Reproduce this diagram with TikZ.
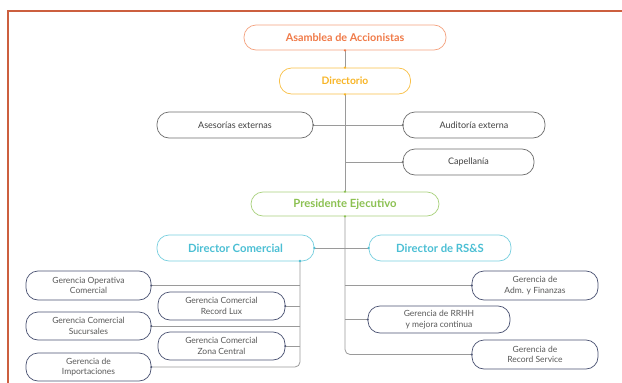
\documentclass[tikz,border=0pt]{standalone}
\usepackage{fontspec}
\setmainfont{Lato}
\definecolor{marco}{HTML}{CC5F3F}
\definecolor{naranja}{HTML}{F07A48}
\definecolor{amarillo}{HTML}{F8B526}
\definecolor{verde}{HTML}{8CC152}
\definecolor{celeste}{HTML}{4BBFD4}
\definecolor{gris}{HTML}{6E6E6E}
\definecolor{azul}{HTML}{4A5272}
\definecolor{linea}{HTML}{9A9A9A}
\begin{document}
\begin{tikzpicture}[x=1pt,y=-1pt,
    caja/.style={draw,rounded corners=12pt,fill=white,line width=0.7pt,inner sep=0pt,align=center},
    jefe/.style={caja,font=\bfseries\fontsize{11.3}{13}\selectfont},
    asesor/.style={caja,draw=gris,text=black!75,font=\fontsize{9}{10}\selectfont},
    gerencia/.style={caja,draw=azul,text=black!65,minimum width=125pt,minimum height=28pt,font=\fontsize{8.5}{10.3}\selectfont},
    conector/.style={linea,line width=0.8pt}]
\useasboundingbox (0,0) rectangle (622,383);
% marco
\draw[marco,line width=2.5pt] (8,400) -- (8,11) -- (630,11);
% nodos
\node[jefe,draw=naranja!70,text=naranja,minimum width=202pt,minimum height=25pt,font=\bfseries\fontsize{10.8}{13}\selectfont] (asamblea) at (345,37.5) {Asamblea de Accionistas};
\node[jefe,draw=amarillo!85,text=amarillo,minimum width=131pt,minimum height=26pt,font=\bfseries\fontsize{10.3}{13}\selectfont] (directorio) at (345,81) {Directorio};
\node[asesor,minimum width=156pt,minimum height=26pt] (asesorias) at (235,125) {Asesorías externas};
\node[asesor,minimum width=142pt,minimum height=26pt] (auditoria) at (474,125) {Auditoría externa};
\node[asesor,minimum width=131pt,minimum height=26pt] (capellania) at (468.5,162) {Capellanía};
\node[jefe,draw=verde!75,text=verde,minimum width=188pt,minimum height=24pt] (presidente) at (345,204) {Presidente Ejecutivo};
\node[jefe,draw=celeste!75,text=celeste,minimum width=157pt,minimum height=26pt] (dircom) at (235.5,248) {Director Comercial};
\node[jefe,draw=celeste!75,text=celeste,minimum width=142pt,minimum height=26pt] (dirrss) at (440,248) {Director de RS\&S};
\node[gerencia,minimum height=29pt] (gopc) at (88.5,285.5) {Gerencia Operativa\\Comercial};
\node[gerencia,minimum width=127pt] (grlux) at (221.5,306) {Gerencia Comercial\\Record Lux};
\node[gerencia] (gsuc) at (88.5,326) {Gerencia Comercial\\Sucursales};
\node[gerencia,minimum width=127pt] (gzona) at (221.5,346) {Gerencia Comercial\\Zona Central};
\node[gerencia] (gimp) at (88.5,367) {Gerencia de\\Importaciones};
\node[gerencia,minimum width=126pt,minimum height=29pt] (gadm) at (535,285.5) {Gerencia de\\Adm. y Finanzas};
\node[gerencia,minimum width=142pt,minimum height=27pt] (grrhh) at (439,319.5) {Gerencia de RRHH\\y mejora continua};
\node[gerencia,minimum width=126pt,minimum height=29pt] (grecord) at (535,354.5) {Gerencia de\\Record Service};
\coordinate (tronco) at (300,261);
% conectores
\draw[conector] (asamblea.south) -- (directorio.north);
\draw[conector] (directorio.south) -- (presidente.north);
\draw[conector] (asesorias.east) -- (auditoria.west);
\draw[conector] (capellania.west) -- (capellania.west -| directorio.south);
\draw[conector,rounded corners=5pt] (presidente.south) -- (presidente.south |- grecord.west) -- (grecord.west);
\draw[conector] (gadm.west) -- (gadm.west -| presidente.south);
\draw[conector] (grrhh.west) -- (grrhh.west -| presidente.south);
\draw[conector] (dircom.east) -- (dirrss.west);
\draw[conector,rounded corners=5pt] (tronco) -- (tronco |- gimp.east) -- (gimp.east);
\foreach \g in {gopc,grlux,gsuc,gzona}
  \draw[conector] (\g.east) -- (\g.east -| tronco);
% puntos
\fill[naranja] (asamblea.south) circle (1.3pt);
\foreach \p in {north,south} \fill[amarillo] (directorio.\p) circle (1.3pt);
\foreach \p in {north,south} \fill[verde] (presidente.\p) circle (1.3pt);
\fill[celeste] (dircom.east) circle (1.3pt) (dirrss.west) circle (1.3pt) (tronco) circle (1.3pt);
\fill[gris] (asesorias.east) circle (1.1pt) (auditoria.west) circle (1.1pt) (capellania.west) circle (1.1pt);
\foreach \g in {gopc,grlux,gsuc,gzona,gimp} \fill[azul] (\g.east) circle (1.1pt);
\foreach \g in {gadm,grrhh,grecord} \fill[azul] (\g.west) circle (1.1pt);
\end{tikzpicture}
\end{document}
